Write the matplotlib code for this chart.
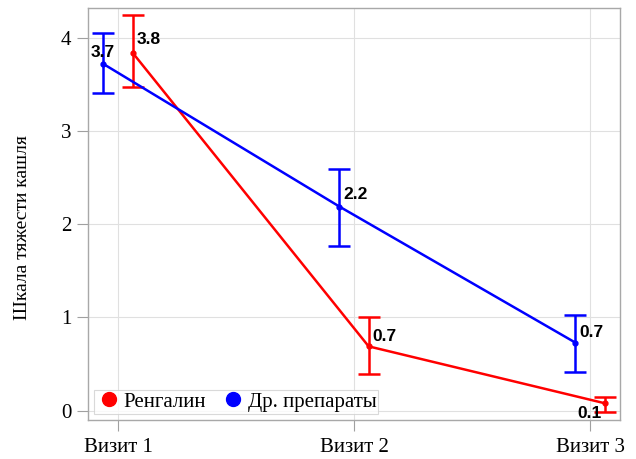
import matplotlib
matplotlib.use("Agg")
import matplotlib.pyplot as plt
from matplotlib.lines import Line2D

visits = ["Визит 1", "Визит 2", "Визит 3"]
series_names = ["Ренгалин", "Др. препараты"]
reng_mean = [3.84, 0.69, 0.08]
reng_low = [3.47, 0.39, -0.01]
reng_high = [4.24, 1.00, 0.15]
other_mean = [3.72, 2.19, 0.73]
other_low = [3.41, 1.77, 0.41]
other_high = [4.05, 2.59, 1.03]
reng_labels = ["3.8", "0.7", "0.1"]
other_labels = ["3.7", "2.2", "0.7"]

fig = plt.figure(figsize=(6.36, 4.59), dpi=100)
ax = fig.add_axes([88/636, 1-420/459, (620-88)/636, (420-8)/459])

serif = "Liberation Serif"
dodge = 0.062
x = list(range(len(visits)))

def draw(means, lows, highs, color, off):
    xs = [i + off for i in x]
    ax.plot(xs, means, color=color, lw=1.8, zorder=3)
    ax.plot(xs, means, 'o', color=color, ms=3.5, zorder=4)
    yerr = [[m - l for m, l in zip(means, lows)], [h - m for m, h in zip(means, highs)]]
    ax.errorbar(xs, means, yerr=yerr, fmt='none', ecolor=color, elinewidth=1.8,
                capsize=8, capthick=1.8, zorder=3)
    return xs

rx = draw(reng_mean, reng_low, reng_high, "#ff0000", dodge)
bx = draw(other_mean, other_low, other_high, "#0000ff", -dodge)

lab_kw = dict(fontsize=12.5, fontweight="bold", family="Liberation Sans", color="black", zorder=5)
# Ренгалин labels
ax.annotate(reng_labels[0], (rx[0], reng_mean[0]), xytext=(3, 4), textcoords="offset points", ha="left", va="bottom", **lab_kw)
ax.annotate(reng_labels[1], (rx[1], reng_mean[1]), xytext=(3, 2), textcoords="offset points", ha="left", va="bottom", **lab_kw)
ax.annotate(reng_labels[2], (rx[2], reng_mean[2]), xytext=(-2, -2), textcoords="offset points", ha="right", va="top", **lab_kw)
# Other labels
ax.annotate(other_labels[0], (bx[0], other_mean[0]), xytext=(-9, 3), textcoords="offset points", ha="left", va="bottom", **lab_kw)
ax.annotate(other_labels[1], (bx[1], other_mean[1]), xytext=(3, 3), textcoords="offset points", ha="left", va="bottom", **lab_kw)
ax.annotate(other_labels[2], (bx[2], other_mean[2]), xytext=(3, 2), textcoords="offset points", ha="left", va="bottom", **lab_kw)

ax.set_xlim(-0.127, 2.127)
ax.set_ylim(-0.1, 4.32)
ax.set_xticks(x)
ax.set_xticklabels(visits, family=serif, fontsize=15)
ax.set_yticks([0, 1, 2, 3, 4])
ax.set_yticklabels(["0", "1", "2", "3", "4"], family=serif, fontsize=15)
ax.set_ylabel("Шкала тяжести кашля", family=serif, fontsize=14)
ax.yaxis.set_label_coords(-0.108, 0.468)
ax.grid(True, color="#e0e0e0", lw=0.8, zorder=0)
ax.set_axisbelow(True)
for s in ax.spines.values():
    s.set_color("#a8a8a8")
    s.set_linewidth(1.0)
ax.tick_params(axis="both", color="#a0a0a0", length=8, width=0.8)
ax.tick_params(axis="x", pad=5)
ax.tick_params(axis="y", pad=4)

handles = [Line2D([], [], marker='o', ls='none', color="#ff0000", ms=10),
           Line2D([], [], marker='o', ls='none', color="#0000ff", ms=10)]
leg = ax.legend(handles, series_names, loc="lower left", ncol=2, prop={"family": serif, "size": 15},
                frameon=True, fancybox=False, edgecolor="#d0d0d0", handletextpad=0.1,
                columnspacing=0.7, borderpad=0.1, borderaxespad=0.3, handlelength=1.2,
                bbox_to_anchor=(0.0, 0.0))
leg.get_frame().set_linewidth(0.8)

fig.savefig("out.png", dpi=100)
